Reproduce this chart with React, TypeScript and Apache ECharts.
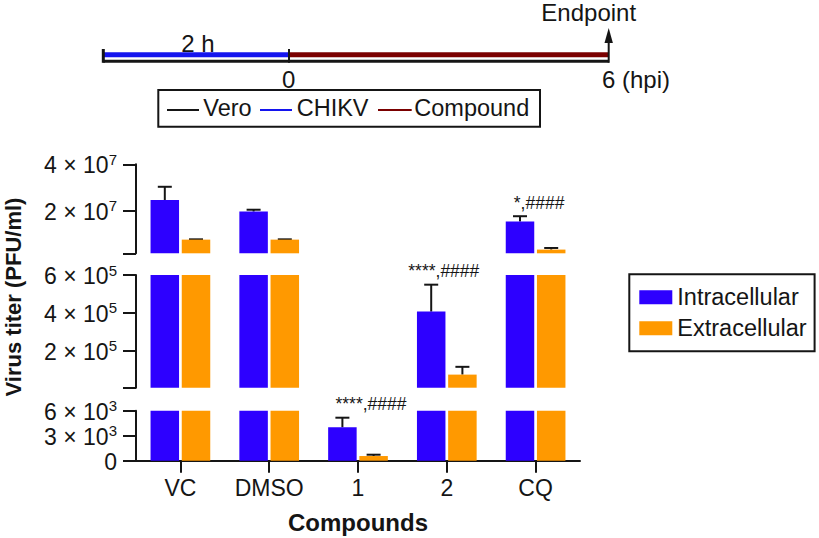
import React, { useEffect, useRef } from 'react';
import * as echarts from 'echarts';

// ---------- data ----------
const categories = ['VC', 'DMSO', '1', '2', 'CQ'];
const intracellular = [2.46e7, 1.96e7, 4.0e3, 4.07e5, 1.53e7];
const intracellularErr = [0.57e7, 0.08e7, 1.16e3, 1.42e5, 0.23e7];
const extracellular = [7.5e6, 7.5e6, 560, 7.5e4, 3.2e6];
const extracellularErr = [0.12e6, 0.12e6, 160, 4.1e4, 0.7e6];
const annotations = ['', '', '****,####', '****,####', '*,####'];

// broken y axis segments, bottom to top
const segMin = [0, 6e3, 1.6e6];
const segMax = [6e3, 6e5, 4e7];
const segTicks = [[0, 3e3, 6e3], [6e3, 2e5, 4e5, 6e5], [1.6e6, 2e7, 4e7]];
const segLabels = [[0, 3e3, 6e3], [2e5, 4e5, 6e5], [2e7, 4e7]];

// ---------- layout / style ----------
const FONT = "'Liberation Sans', Arial, Helvetica, sans-serif";
const INK = '#151515';
const BLUE = '#2d00ff';
const ORANGE = '#ff9900';
const GRID_LEFT = 136;
const GRID_WIDTH = 444;
const gridLayout = [
  { top: 410.7, height: 50 },
  { top: 275, height: 112.7 },
  { top: 164.3, height: 89 },
];
const BAR_W = 28.5;
const BAR_GAP = 2.7;
const BAR_OFF = (BAR_W + BAR_GAP) / 2;
const annotDx = [0, 0, 13, -3, 3.5];

function sciLabel(v: number): string {
  if (v === 0) return '{b|0}';
  const e = Math.floor(Math.log10(v) + 1e-9);
  const m = Math.round(v / Math.pow(10, e));
  return `{b|${m} × 10}{s|${e}}`;
}

function buildOption(): any {
  const grid = gridLayout.map((g) => ({ left: GRID_LEFT, width: GRID_WIDTH, top: g.top, height: g.height }));
  const xAxis = gridLayout.map((_, i) => ({
    type: 'category',
    gridIndex: i,
    data: categories,
    show: i === 0,
    axisLine: { show: true, lineStyle: { color: INK, width: 2 } },
    axisTick: { show: true, alignWithLabel: true, interval: 0, length: 12, lineStyle: { color: INK, width: 2 } },
    axisLabel: { fontSize: 23, color: INK, fontFamily: FONT, margin: 16, interval: 0, hideOverlap: false },
    name: i === 0 ? 'Compounds' : '',
    nameLocation: 'middle',
    nameGap: 50,
    nameTextStyle: { fontSize: 24, fontWeight: 'bold', color: INK, fontFamily: FONT },
  }));
  const yAxis = gridLayout.map((_, i) => ({
    type: 'value',
    gridIndex: i,
    min: segMin[i],
    max: segMax[i],
    splitLine: { show: false },
    axisLine: { show: true, lineStyle: { color: INK, width: 2 } },
    axisTick: { show: true, length: 13, lineStyle: { color: INK, width: 2 }, customValues: segTicks[i] },
    axisLabel: {
      customValues: segLabels[i],
      margin: 19,
      formatter: (v: number) => sciLabel(v),
      rich: {
        b: { fontSize: 23, fontFamily: FONT, color: INK, lineHeight: 25, verticalAlign: 'bottom' },
        s: { fontSize: 15, fontFamily: FONT, color: INK, lineHeight: 15, verticalAlign: 'top' },
      },
    },
  }));

  const series: any[] = [];
  gridLayout.forEach((_, i) => {
    series.push({
      name: 'Intracellular',
      type: 'bar',
      xAxisIndex: i,
      yAxisIndex: i,
      data: intracellular,
      barWidth: BAR_W,
      barGap: `${(BAR_GAP / BAR_W) * 100}%`,
      itemStyle: { color: BLUE },
      clip: true,
    });
    series.push({
      name: 'Extracellular',
      type: 'bar',
      xAxisIndex: i,
      yAxisIndex: i,
      data: extracellular,
      barWidth: BAR_W,
      itemStyle: { color: ORANGE },
      clip: true,
    });
    const errData: number[][] = [];
    categories.forEach((_c, k) => {
      errData.push([k, intracellular[k], intracellularErr[k], 0]);
      errData.push([k, extracellular[k], extracellularErr[k], 1]);
    });
    const lo = segMin[i];
    const hi = segMax[i];
    series.push({
      type: 'custom',
      xAxisIndex: i,
      yAxisIndex: i,
      data: errData,
      encode: { x: 0, y: 1 },
      silent: true,
      renderItem: (_p: any, api: any) => {
        const cat = api.value(0);
        const v = api.value(1);
        const e = api.value(2);
        const kind = api.value(3);
        if (v < lo || v > hi) return null;
        const p0 = api.coord([cat, v]);
        const p1 = api.coord([cat, v + e]);
        const x = p0[0] + (kind === 0 ? -BAR_OFF : BAR_OFF);
        const st = { stroke: INK, lineWidth: 2 };
        return {
          type: 'group',
          children: [
            { type: 'line', shape: { x1: x, y1: p0[1], x2: x, y2: p1[1] }, style: st },
            { type: 'line', shape: { x1: x - 7, y1: p1[1], x2: x + 7, y2: p1[1] }, style: st },
          ],
        };
      },
    });
    const annData: any[] = [];
    categories.forEach((_c, k) => {
      if (annotations[k] && intracellular[k] >= lo && intracellular[k] <= hi) {
        annData.push([k, intracellular[k] + intracellularErr[k], k]);
      }
    });
    series.push({
      type: 'custom',
      xAxisIndex: i,
      yAxisIndex: i,
      data: annData,
      encode: { x: 0, y: 1 },
      silent: true,
      renderItem: (_p: any, api: any) => {
        const cat = api.value(0);
        const top = api.value(1);
        const k = api.value(2);
        const p = api.coord([cat, top]);
        return {
          type: 'text',
          x: p[0] + annotDx[k],
          y: p[1] - 13.5,
          style: {
            text: annotations[k],
            fontSize: 17.5,
            fontFamily: FONT,
            fill: INK,
            align: 'center',
            verticalAlign: 'middle',
            textAlign: 'center',
            textVerticalAlign: 'middle',
          },
        };
      },
    });
  });

  const txt = (text: string, x: number, y: number, align: string, size = 24) => ({
    type: 'text',
    x,
    y,
    style: {
      text,
      fontSize: size,
      fontFamily: FONT,
      fill: INK,
      align,
      verticalAlign: 'middle',
      textAlign: align,
      textVerticalAlign: 'middle',
    },
  });
  const ln = (x1: number, y1: number, x2: number, y2: number, color: string, w: number) => ({
    type: 'line',
    shape: { x1, y1, x2, y2 },
    style: { stroke: color, lineWidth: w },
  });

  const graphic: any[] = [
    // timeline
    ln(103.3, 61.3, 608.7, 61.3, INK, 3),
    ln(103.3, 54.8, 289, 54.8, '#1414ee', 5),
    ln(289, 54.8, 608.7, 54.8, '#7a0000', 5),
    ln(103.3, 49, 103.3, 62.8, INK, 3),
    ln(289, 49, 289, 62.8, INK, 2),
    ln(608.7, 62.8, 608.7, 40, INK, 2),
    { type: 'polygon', shape: { points: [[604.5, 43], [612.9, 43], [608.7, 28]] }, style: { fill: INK } },
    txt('2 h', 198, 43, 'center'),
    txt('0', 288.7, 79, 'center'),
    txt('6 (hpi)', 602, 79.5, 'left'),
    txt('Endpoint', 588.7, 12.5, 'center'),
    // timeline legend
    { type: 'rect', shape: { x: 158.3, y: 90, width: 381.7, height: 36.7 }, style: { fill: 'none', stroke: INK, lineWidth: 2 } },
    ln(167, 110, 199, 110, INK, 2),
    txt('Vero', 203.3, 108, 'left', 23.5),
    ln(260, 110, 292, 110, '#1414ee', 2),
    txt('CHIKV', 296.7, 108, 'left', 23.5),
    ln(378, 110, 411.7, 110, '#7a0000', 2),
    txt('Compound', 414.3, 108, 'left', 23.5),
    // y axis title
    {
      type: 'text',
      x: 13,
      y: 297,
      rotation: Math.PI / 2,
      style: {
        text: 'Virus titer (PFU/ml)',
        fontSize: 22,
        fontWeight: 'bold',
        fontFamily: FONT,
        fill: INK,
        align: 'center',
        verticalAlign: 'middle',
        textAlign: 'center',
        textVerticalAlign: 'middle',
      },
    },
  ];

  return {
    animation: false,
    backgroundColor: '#ffffff',
    grid,
    xAxis,
    yAxis,
    series,
    graphic,
    legend: {
      data: ['Intracellular', 'Extracellular'],
      orient: 'vertical',
      left: 629.3,
      top: 274.3,
      itemWidth: 33,
      itemHeight: 14,
      itemGap: 7,
      itemStyle: { borderWidth: 0 },
      textStyle: { fontSize: 23.5, fontFamily: FONT, color: INK },
      borderColor: INK,
      borderWidth: 2,
      padding: [11, 8, 11, 10],
      selectedMode: false,
      icon: 'rect',
    },
  };
}

export default function App() {
  const ref = useRef<HTMLDivElement>(null);
  useEffect(() => {
    if (!ref.current) return;
    const chart = echarts.init(ref.current, undefined, { renderer: 'svg' });
    chart.setOption(buildOption());
    return () => chart.dispose();
  }, []);
  return (
    <div
      ref={ref}
      style={{ position: 'fixed', left: 0, top: 0, width: 819, height: 538, background: '#fff' }}
    />
  );
}
